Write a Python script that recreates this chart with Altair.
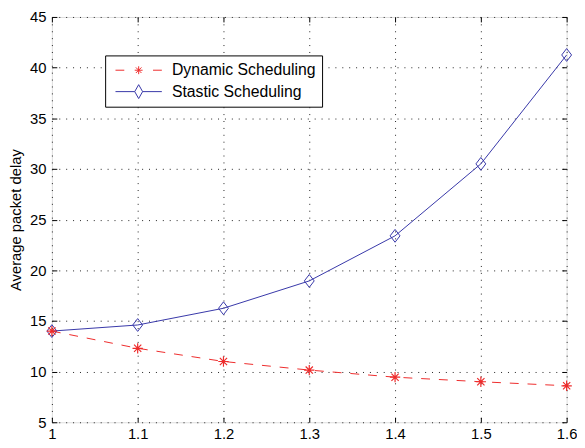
import altair as alt
import pandas as pd

# ---- data ----
load = [1.0, 1.1, 1.2, 1.3, 1.4, 1.5, 1.6]
dynamic_delay = [14.0, 12.3, 11.0, 10.15, 9.45, 9.0, 8.6]
static_delay = [14.0, 14.6, 16.25, 18.95, 23.4, 30.5, 41.25]
series_names = ["Dynamic Scheduling", "Stastic Scheduling"]
x_ticks = [1.0, 1.1, 1.2, 1.3, 1.4, 1.5, 1.6]
y_ticks = [5, 10, 15, 20, 25, 30, 35, 40, 45]

RED = "#ee2b2b"
BLUE = "#3636a8"
FONT = "Liberation Sans"

df = pd.DataFrame({
    "load": load + load,
    "delay": dynamic_delay + static_delay,
    "series": [series_names[0]] * len(load) + [series_names[1]] * len(load),
})

xs = alt.Scale(domain=[1.0, 1.6], nice=False, zero=False)
ys = alt.Scale(domain=[5, 45], nice=False, zero=False)

# marker paths (unit coordinates, scaled by sqrt(size)/2)
STAR = "M-1,0H1M0,-1V1M-0.7,-0.7L0.7,0.7M-0.7,0.7L0.7,-0.7"
DIAMOND = "M0,-1.3L1,0L0,1.3L-1,0Z"
LEG_DYN = ("M-1,0H-0.62M0.62,0H1"
           "M-0.17,0H0.17M0,-0.17V0.17M-0.12,-0.12L0.12,0.12M-0.12,0.12L0.12,-0.12")
LEG_STA = "M-1,0H-0.17M0.17,0H1M0,-0.3L0.17,0L0,0.3L-0.17,0Z"

grid_kw = dict(grid=True, gridColor="#222222", gridDash=[1, 6], gridWidth=1,
               gridOpacity=1, ticks=False, domain=False, labelFlush=False,
               labelFont=FONT, labelFontSize=15, labelColor="black")

x_main = alt.X("load:Q", scale=xs, axis=alt.Axis(values=x_ticks, format="~g",
                                                   labelPadding=4, title=None, **grid_kw))
y_main = alt.Y("delay:Q", scale=ys, axis=alt.Axis(values=y_ticks, labelPadding=6,
                                                    title="Average packet delay",
                                                    titleFont=FONT, titleFontSize=15,
                                                    titleFontWeight="normal",
                                                    titleColor="black", titlePadding=6,
                                                    **grid_kw))
x_none = alt.X("load:Q", scale=xs, axis=None)
y_none = alt.Y("delay:Q", scale=ys, axis=None)

dyn = alt.Chart(df).transform_filter(alt.datum.series == series_names[0])
sta = alt.Chart(df).transform_filter(alt.datum.series == series_names[1])

line_dyn = dyn.mark_line(color=RED, strokeWidth=1, strokeDash=[9, 9]).encode(x=x_main, y=y_main)
line_sta = sta.mark_line(color=BLUE, strokeWidth=1).encode(x=x_none, y=y_none)
pts_sta = sta.mark_point(shape=DIAMOND, filled=False, size=100, color=BLUE,
                         strokeWidth=1, opacity=1).encode(x=x_none, y=y_none)
pts_dyn = dyn.mark_point(shape=STAR, filled=False, size=110, color=RED,
                         strokeWidth=1.2, opacity=1).encode(x=x_none, y=y_none)

leg = alt.Legend(orient="none", legendX=54, legendY=39, title=None,
                 strokeColor="black", fillColor="white", padding=6,
                 symbolSize=2209, symbolStrokeWidth=1, symbolOpacity=1,
                 symbolOffset=4, labelOffset=9.7, clipHeight=18, rowPadding=3.7,
                 labelFont=FONT, labelFontSize=16, labelColor="black", cornerRadius=0)
legend_layer = alt.Chart(df).mark_point(opacity=0, filled=False).encode(
    x=x_none, y=y_none,
    color=alt.Color("series:N", scale=alt.Scale(domain=series_names, range=[RED, BLUE]), legend=leg),
    shape=alt.Shape("series:N", scale=alt.Scale(domain=series_names, range=[LEG_DYN, LEG_STA]), legend=leg),
)

tick_kw = dict(labels=False, domain=False, grid=False, ticks=True, tickSize=5,
               tickColor="black", tickWidth=1, offset=-5, title=None)
ticks_bl = alt.Chart(df).mark_point(opacity=0).encode(
    x=alt.X("load:Q", scale=xs, axis=alt.Axis(orient="bottom", values=x_ticks, **tick_kw)),
    y=alt.Y("delay:Q", scale=ys, axis=alt.Axis(orient="left", values=y_ticks, **tick_kw)),
)
ticks_tr = alt.Chart(df).mark_point(opacity=0).encode(
    x=alt.X("load:Q", scale=xs, axis=alt.Axis(orient="top", values=x_ticks, **tick_kw)),
    y=alt.Y("delay:Q", scale=ys, axis=alt.Axis(orient="right", values=y_ticks, **tick_kw)),
)

chart = alt.layer(
    line_dyn, line_sta, pts_sta, pts_dyn, legend_layer, ticks_bl, ticks_tr
).resolve_axis(x="independent", y="independent").properties(
    width=522, height=411,
    padding={"left": 44.5, "top": 6, "right": 10.5, "bottom": 23},
    autosize=alt.AutoSizeParams(type="none"),
).configure_view(stroke="black", strokeWidth=1).configure(font=FONT)

chart.save("out.html", embed_options={"renderer": "svg", "actions": False})
